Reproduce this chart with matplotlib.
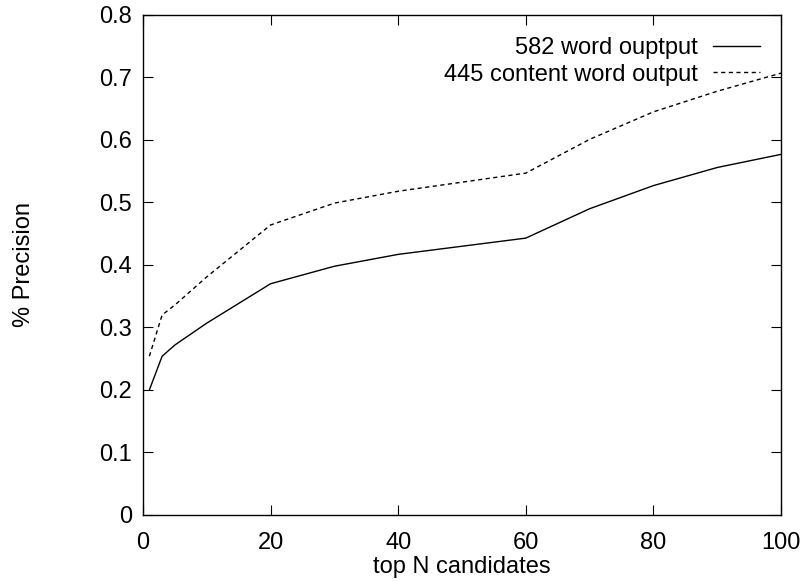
import numpy as np
import matplotlib
matplotlib.use("Agg")
import matplotlib.pyplot as plt

plt.rcParams['font.family'] = ['Liberation Sans', 'DejaVu Sans']

# data
top_n = [1, 3, 5, 10, 20, 30, 40, 60, 70, 80, 90, 100]
prec_582 = [0.200, 0.254, 0.272, 0.307, 0.370, 0.398, 0.417, 0.443, 0.490, 0.527, 0.556, 0.577]
prec_445 = [0.254, 0.320, 0.336, 0.381, 0.464, 0.499, 0.518, 0.547, 0.601, 0.645, 0.678, 0.707]
labels = ['582 word ouptput', '445 content word output']

fs = 17

fig = plt.figure(figsize=(8.05, 5.81), dpi=100)
ax = fig.add_axes([0.1776, 0.1136, 0.7926, 0.8606])

ax.plot(top_n, prec_582, '-', color='black', lw=1.0, label=labels[0])
ax.plot(top_n, prec_445, color='black', lw=1.0, linestyle=(0, (3, 2.5)), label=labels[1])

ax.set_xlim(0, 100)
ax.set_ylim(0, 0.8)
ax.set_xticks(np.arange(0, 101, 20))
ax.set_yticks(np.arange(0, 0.81, 0.1))
ax.set_yticklabels(['0', '0.1', '0.2', '0.3', '0.4', '0.5', '0.6', '0.7', '0.8'])
ax.tick_params(direction='in', top=True, right=True, length=7, width=0.8, labelsize=fs)
ax.tick_params(axis='y', pad=8)
ax.tick_params(axis='x', pad=12)
for s in ax.spines.values():
    s.set_linewidth(1.0)

ax.set_xlabel('top N candidates', fontsize=fs, labelpad=2)
ax.set_ylabel('% Precision', fontsize=fs, labelpad=46)

# legend placed in figure coords (top right inside the axes)
leg = ax.legend(loc='upper right', frameon=False, markerfirst=False, fontsize=fs,
                handlelength=2.0, handletextpad=0.65, labelspacing=0.2,
                borderpad=0, borderaxespad=0,
                bbox_to_anchor=(760 / 805, (581 - 37) / 581),
                bbox_transform=fig.transFigure)

fig.savefig('out.png', dpi=100)
